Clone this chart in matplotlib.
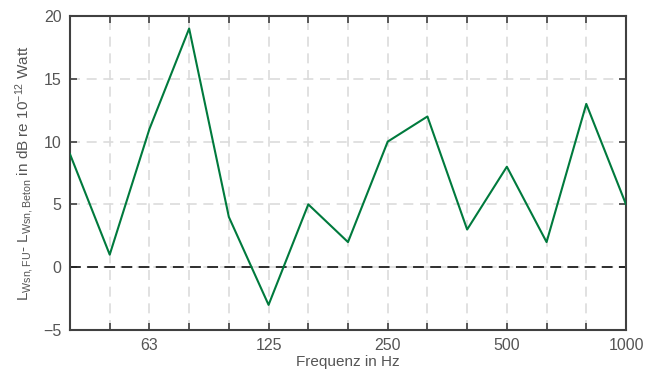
import matplotlib.pyplot as plt
import numpy as np

plt.rcParams['font.family'] = ['Liberation Sans', 'DejaVu Sans']
plt.rcParams['mathtext.fontset'] = 'custom'
plt.rcParams['mathtext.rm'] = 'Liberation Sans'
plt.rcParams['mathtext.it'] = 'Liberation Sans'

# third-octave bands 40 Hz .. 1000 Hz
bands = [40, 50, 63, 80, 100, 125, 160, 200, 250, 315, 400, 500, 630, 800, 1000]
diff_db = [9, 1, 11, 19, 4, -3, 5, 2, 10, 12, 3, 8, 2, 13, 5]
labeled = [63, 125, 250, 500, 1000]

axis_col = '#404040'
text_col = '#555555'
x = np.arange(len(bands))

fig = plt.figure(figsize=(6.46, 3.79), dpi=100)
ax = fig.add_axes([70 / 646, 1 - 330 / 379, 556 / 646, 314 / 379])

ax.grid(True, color='#dcdcdc', linestyle=(0, (6, 4)), linewidth=1.2)
ax.set_axisbelow(True)
ax.axhline(0, color='#202020', linestyle=(0, (6, 3.5)), linewidth=1.3, zorder=2)
ax.plot(x, diff_db, color='#007A3D', linewidth=1.5, zorder=3)

ax.set_xlim(0, len(bands) - 1)
ax.set_ylim(-5, 20)
ax.set_yticks([-5, 0, 5, 10, 15, 20])
ax.set_xticks(x)
ax.set_xticklabels([str(b) if b in labeled else '' for b in bands])

ax.tick_params(direction='in', top=True, right=True, length=5, width=1.2,
               colors=axis_col, labelsize=11.5, labelcolor=text_col, pad=6)
for s in ax.spines.values():
    s.set_color(axis_col)
    s.set_linewidth(1.5)

ax.set_xlabel('Frequenz in Hz', fontsize=11, color=text_col, labelpad=1)
ax.set_ylabel(r'L$_{\mathrm{Wsn,FU}}$- L$_{\mathrm{Wsn,Beton}}$ in dB re 10$^{-12}$ Watt',
              fontsize=11, color=text_col, labelpad=5)

fig.savefig('out.png', dpi=100)
